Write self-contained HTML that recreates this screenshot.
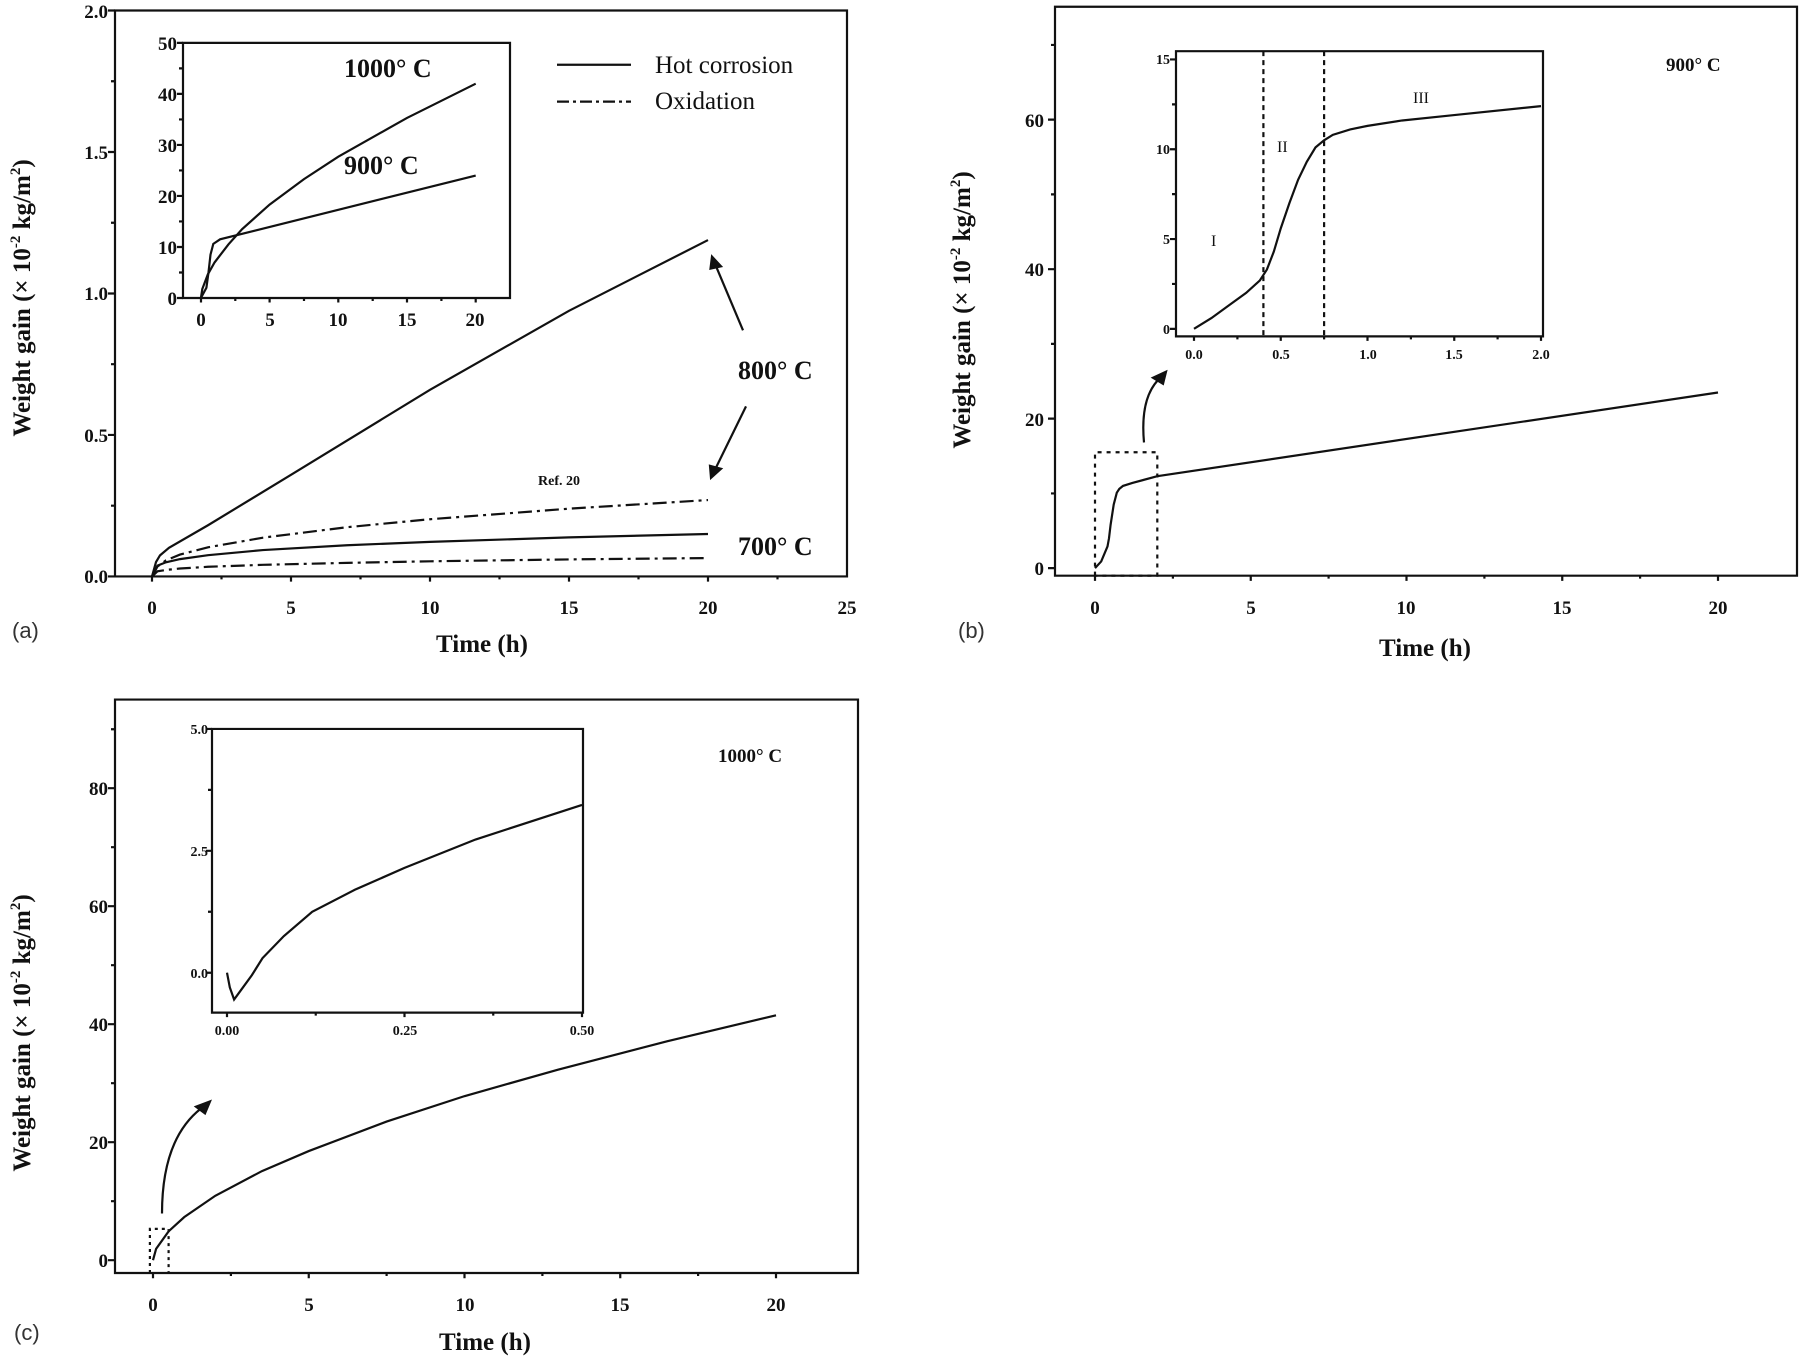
<!DOCTYPE html>
<html><head><meta charset="utf-8"><style>
html,body{margin:0;padding:0;background:#fff;width:1800px;height:1358px;overflow:hidden}
svg{display:block}
path,rect{vector-effect:non-scaling-stroke}
text{font-family:"Liberation Serif",serif;fill:#111}
.t{font-weight:bold;font-size:19px}
.ts{font-weight:bold;font-size:14px}
.ti{font-weight:bold;font-size:25px}
.lb{font-weight:bold;font-size:26px}
.pl{font-family:"Liberation Sans",sans-serif;font-size:22px;fill:#333}
</style></head><body>
<svg width="1800" height="1358" viewBox="0 0 1800 1358" xmlns="http://www.w3.org/2000/svg">
<g fill="none" stroke="#111" stroke-width="2.2" transform="scale(1,0.7525)">
<rect x="115" y="14" width="732" height="752"/>
<path d="M152,766v7M291,766v7M430,766v7M569,766v7M708,766v7M221.5,766v4M360.5,766v4M499.5,766v4M638.5,766v4M777.5,766v4M115,766h-7M115,578h-7M115,390h-7M115,202h-7M115,14h-7M115,672h-4M115,484h-4M115,296h-4M115,108h-4"/>
<path d="M152,766L156,747L160,738L169,728L208,698L291,631L430,518L569,413L708,319"/>
<path stroke-dasharray="14 5 3 5" d="M152,766L157.5,752.8L166,744.6L180,737L208,727.3L263,714.5L347,700.6L430,690L569,676L708,664.5"/>
<path d="M152,766L157.5,751.7L166,747.2L180,743L208,737.8L263,731L347,724.6L430,720.1L569,714.1L708,709.6"/>
<path stroke-dasharray="14 5 3 5" d="M152,766L157.5,759.2L166,757.4L180,755.5L208,753.2L263,750.6L347,748L430,745.9L569,743.4L708,741.6"/>
<path d="M743,439L715.9,353.4"/><path fill="#111" d="M712,341L721,354L710.5,357Z"/>
<path d="M746,540L715.5,622.8"/><path fill="#111" d="M711,635L710,619L721,623Z"/>
<path d="M557,86H631"/><path stroke-dasharray="12 4 3 4" d="M557,135H631"/>
<rect x="183" y="57" width="327" height="339"/>
<path d="M201,396v6M269.6,396v6M338.3,396v6M407,396v6M475.7,396v6M235.3,396v4M304,396v4M372.7,396v4M441.4,396v4M183,396h-6M183,328.2h-6M183,260.4h-6M183,192.6h-6M183,124.8h-6M183,57h-6M183,362.1h-4M183,294.3h-4M183,226.5h-4M183,158.7h-4M183,90.9h-4"/>
<path d="M200.9,396L202.3,384.1L207.8,364.8L214.6,348.7L228.4,324.8L242.1,304.5L269.6,271.9L304,238L338.3,208.2L407,156.7L475.7,111.2"/>
<path d="M200.9,396L206.4,382.4L208.5,362L210.5,338.4L213.3,324.1L220.1,318L475.7,233.3"/>
<rect x="1055" y="9" width="742" height="756"/>
<path d="M1095,765v7M1250.75,765v7M1406.5,765v7M1562.25,765v7M1718,765v7M1172.9,765v4M1328.6,765v4M1484.4,765v4M1640.1,765v4M1055,755h-7M1055,556.3h-7M1055,357.7h-7M1055,159h-7M1055,655.7h-4M1055,457h-4M1055,258.3h-4M1055,59.7h-4"/>
<path d="M1095,755L1101.2,746.1L1107.5,726.2L1109,715.3L1110.6,697.4L1113.7,670.6L1116.8,654.7L1119.3,649.7L1123,645.7L1132.4,641.8L1157.3,632.8L1718,521.6"/>
<path stroke-dasharray="4 5" d="M1095,765V601H1157.3V765H1095"/>
<path d="M1144,588Q1140,530 1158.4,504.5"/><path fill="#111" d="M1166,494L1163,510L1153,502Z"/>
<rect x="1176" y="68" width="367" height="379"/>
<path d="M1194,447v6M1280.75,447v6M1367.5,447v6M1454.25,447v6M1541,447v6M1237.4,447v4M1324.1,447v4M1410.9,447v4M1497.6,447v4M1176,437h-6M1176,317.7h-6M1176,198.3h-6M1176,79h-6M1176,377.3h-4M1176,258h-4M1176,138.7h-4"/>
<path d="M1194,437L1211.4,422.7L1228.7,406L1246.1,389.3L1259.9,372.6L1266.9,358.2L1273.8,334.4L1280.8,303.3L1289.4,269.9L1298.1,238.9L1306.8,215L1315.5,195.9L1324.1,186.4L1332.8,179.2L1350.2,172L1367.5,167.3L1402.2,160.1L1454.3,152.9L1541,141"/>
<path stroke-dasharray="5 4" d="M1263.4,68V447M1324.1,68V447"/>
</g>
<g fill="none" stroke="#111" stroke-width="2.2" transform="translate(0,680) scale(1,0.7525) translate(0,-680)">
<rect x="115" y="706" width="743" height="762"/>
<path d="M153,1468v7M308.75,1468v7M464.5,1468v7M620.25,1468v7M776,1468v7M230.9,1468v4M386.6,1468v4M542.4,1468v4M698.1,1468v4M115,1451h-7M115,1294.2h-7M115,1137.4h-7M115,980.6h-7M115,823.8h-7M115,1372.6h-4M115,1215.8h-4M115,1059h-4M115,902.2h-4M115,745.4h-4"/>
<path d="M153,1451L156.1,1436L168.6,1412.7L184.2,1393.8L215.3,1365.4L262,1332.6L308.75,1306L386.6,1266.8L464.5,1233L558,1197.8L667,1160.1L776,1125.6"/>
<path stroke-dasharray="3 4" d="M149.9,1468V1409.4H168.6V1468"/>
<path d="M162,1389Q162,1290 201,1249.4"/><path fill="#111" d="M210,1240L205,1256L196,1247Z"/>
<rect x="212" y="745" width="371" height="377"/>
<path d="M227,1122v6M404.5,1122v6M582,1122v6M315.75,1122v4M493.25,1122v4M212,1069h-6M212,907h-6M212,745h-6M212,988h-4M212,826h-4"/>
<path d="M227,1069L229.8,1088.4L234.1,1104.6L241.2,1091.7L251.9,1072.2L262.5,1049.6L283.8,1020.4L312.2,988L354.8,958.8L404.5,929.7L475.5,892L582,846"/>
</g>
<!-- panel a text -->
<g class="t" text-anchor="end">
<text x="108" y="583">0.0</text><text x="108" y="442">0.5</text><text x="108" y="300">1.0</text><text x="108" y="159">1.5</text><text x="108" y="18">2.0</text>
</g>
<g class="t" text-anchor="middle">
<text x="152" y="614">0</text><text x="291" y="614">5</text><text x="430" y="614">10</text><text x="569" y="614">15</text><text x="708" y="614">20</text><text x="847" y="614">25</text>
</g>
<text class="ti" x="482" y="652" text-anchor="middle">Time (h)</text>
<text class="ti" transform="translate(30,298) rotate(-90)" text-anchor="middle">Weight gain (× 10<tspan dy="-10" font-size="15">-2</tspan><tspan dy="10"> kg/m</tspan><tspan dy="-10" font-size="15">2</tspan><tspan dy="10">)</tspan></text>
<text class="pl" x="12" y="638">(a)</text>
<g class="t" text-anchor="end">
<text x="177" y="305">0</text><text x="177" y="254">10</text><text x="177" y="203">20</text><text x="177" y="152">30</text><text x="177" y="101">40</text><text x="177" y="50">50</text>
</g>
<g class="t" text-anchor="middle">
<text x="201" y="326">0</text><text x="270" y="326">5</text><text x="338" y="326">10</text><text x="407" y="326">15</text><text x="475" y="326">20</text>
</g>
<text class="lb" x="344" y="77">1000° C</text>
<text class="lb" x="344" y="174">900° C</text>
<text x="655" y="73" font-size="25">Hot corrosion</text>
<text x="655" y="109" font-size="25">Oxidation</text>
<text class="lb" x="738" y="379">800° C</text>
<text class="lb" x="738" y="555">700° C</text>
<text class="ts" x="538" y="485">Ref. 20</text>
<!-- panel b text -->
<g class="t" text-anchor="end">
<text x="1044" y="575">0</text><text x="1044" y="426">20</text><text x="1044" y="276">40</text><text x="1044" y="127">60</text>
</g>
<g class="t" text-anchor="middle">
<text x="1095" y="614">0</text><text x="1251" y="614">5</text><text x="1406" y="614">10</text><text x="1562" y="614">15</text><text x="1718" y="614">20</text>
</g>
<text class="ti" x="1425" y="656" text-anchor="middle">Time (h)</text>
<text class="ti" transform="translate(970,310) rotate(-90)" text-anchor="middle">Weight gain (× 10<tspan dy="-10" font-size="15">-2</tspan><tspan dy="10"> kg/m</tspan><tspan dy="-10" font-size="15">2</tspan><tspan dy="10">)</tspan></text>
<text class="pl" x="958" y="638">(b)</text>
<g class="ts" text-anchor="end">
<text x="1170" y="334">0</text><text x="1170" y="244">5</text><text x="1170" y="154">10</text><text x="1170" y="64">15</text>
</g>
<g class="ts" text-anchor="middle">
<text x="1194" y="359">0.0</text><text x="1281" y="359">0.5</text><text x="1368" y="359">1.0</text><text x="1454" y="359">1.5</text><text x="1541" y="359">2.0</text>
</g>
<text x="1211" y="246" font-size="16">I</text>
<text x="1277" y="152" font-size="16">II</text>
<text x="1413" y="103" font-size="16">III</text>
<text class="t" x="1666" y="71">900° C</text>
<!-- panel c text -->
<g class="t" text-anchor="end">
<text x="108" y="1267">0</text><text x="108" y="1149">20</text><text x="108" y="1031">40</text><text x="108" y="913">60</text><text x="108" y="795">80</text>
</g>
<g class="t" text-anchor="middle">
<text x="153" y="1311">0</text><text x="309" y="1311">5</text><text x="465" y="1311">10</text><text x="620" y="1311">15</text><text x="776" y="1311">20</text>
</g>
<text class="ti" x="485" y="1350" text-anchor="middle">Time (h)</text>
<text class="ti" transform="translate(30,1033) rotate(-90)" text-anchor="middle">Weight gain (× 10<tspan dy="-10" font-size="15">-2</tspan><tspan dy="10"> kg/m</tspan><tspan dy="-10" font-size="15">2</tspan><tspan dy="10">)</tspan></text>
<text class="pl" x="14" y="1340">(c)</text>
<g class="ts" text-anchor="end">
<text x="208" y="978">0.0</text><text x="208" y="856">2.5</text><text x="208" y="734">5.0</text>
</g>
<g class="ts" text-anchor="middle">
<text x="227" y="1035">0.00</text><text x="405" y="1035">0.25</text><text x="582" y="1035">0.50</text>
</g>
<text class="t" x="718" y="762">1000° C</text>
</svg>
</body></html>
